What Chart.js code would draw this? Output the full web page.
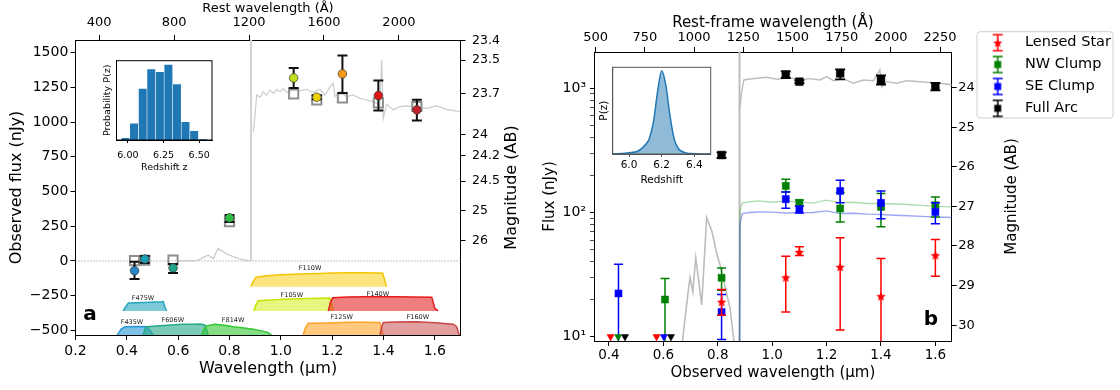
<!DOCTYPE html>
<html>
<head>
<meta charset="utf-8">
<title>SED panels</title>
<script src="https://cdn.jsdelivr.net/npm/chart.js@4/dist/chart.umd.min.js"></script>
<style>
  html, body { margin: 0; padding: 0; background: #ffffff; }
  #fig { position: relative; width: 1120px; height: 390px; overflow: hidden; background: #ffffff; }
  #fig canvas { position: absolute; }
</style>
</head>
<body>
<div id="fig">
  <canvas id="chartA" width="530" height="390" style="left:0px;top:0px;width:530px;height:390px;"></canvas>
  <canvas id="chartB" width="590" height="390" style="left:530px;top:0px;width:590px;height:390px;"></canvas>
  <canvas id="insetA" width="150" height="130" style="left:80px;top:50px;width:150px;height:130px;"></canvas>
  <canvas id="insetB" width="145" height="135" style="left:580px;top:55px;width:145px;height:135px;"></canvas>
</div>
<script>
// ======================= DATA : panel a =======================
const zA = 6.3;
const xRangeA = [0.2, 1.7];
const yRangeA = [-533, 1591];
const obsTicksA = [0.2, 0.4, 0.6, 0.8, 1.0, 1.2, 1.4, 1.6];
const restTicksA = [400, 800, 1200, 1600, 2000];
const fluxTicksA = [-500, -250, 0, 250, 500, 750, 1000, 1250, 1500];
const magTicksA = [23.4, 23.5, 23.7, 24, 24.2, 24.5, 25, 26];

const photLamA  = [0.43, 0.47, 0.58, 0.80, 1.05, 1.14, 1.24, 1.38, 1.53];
const photFluxA = [-70, 14, -50, 310, 1318, 1179, 1347, 1191, 1088];
const photLoA   = [-130, -14, -86, 281, 1246, 1164, 1210, 1083, 1011];
const photHiA   = [-5, 36, -22, 331, 1390, 1194, 1479, 1299, 1160];
const modelFluxA = [2, 5, 7, 283, 1203, 1160, 1174, 1138, 1112];

const specLoLamA  = [0.60, 0.666, 0.685, 0.704, 0.717, 0.737, 0.747, 0.756, 0.770, 0.789, 0.815, 0.841, 0.873, 0.881];
const specLoFluxA = [0, 0, 12, 31, 41, 17, 60, 89, 74, 50, 31, 14, 2, 0];
const specHiLamA  = [0.893,0.899,0.906,0.919,0.932,0.945,0.958,0.971,0.984,0.997,1.010,1.023,1.048,1.075,1.101,1.126,1.152,1.172,1.191,1.204,1.211,1.230,1.256,1.282,1.308,1.334,1.360,1.386,1.393,1.399,1.412,1.438,1.464,1.490,1.529,1.568,1.607,1.646,1.698];
const specHiFluxA = [931,1039,1195,1178,1219,1195,1231,1207,1236,1219,1243,1212,1231,1226,1236,1212,1236,1195,1251,1279,1183,1219,1183,1195,1171,1159,1147,1123,1447,1027,1130,1087,1111,1116,1107,1099,1116,1092,1075];
const lyaLamA  = [0.884, 0.884];
const lyaFluxA = [0, 1591];
const zeroLamA  = [0.2, 1.7];
const zeroFluxA = [0, 0];

const filterNamesA = ['F435W','F475W','F606W','F814W','F105W','F110W','F125W','F140W','F160W'];
const F435W_lam = [0.363, 0.378, 0.393, 0.44, 0.477, 0.49, 0.503];
const F435W_val = [-533, -490, -474, -471, -474, -500, -533];
const F475W_lam = [0.386, 0.395, 0.406, 0.47, 0.535, 0.542, 0.548, 0.555];
const F475W_val = [-360, -330, -303, -299, -294, -293, -330, -360];
const F606W_lam = [0.464, 0.470, 0.477, 0.529, 0.575, 0.620, 0.660, 0.685, 0.704, 0.717];
const F606W_val = [-533, -490, -473, -466, -461, -456, -455, -454, -461, -533];
const F814W_lam = [0.692, 0.700, 0.711, 0.743, 0.78, 0.815, 0.85, 0.893, 0.93, 0.951, 0.964];
const F814W_val = [-533, -490, -468, -456, -462, -473, -481, -492, -505, -516, -533];
const F105W_lam = [0.895, 0.902, 0.912, 0.96, 1.010, 1.10, 1.191, 1.198, 1.204];
const F105W_val = [-360, -320, -286, -281, -276, -271, -267, -310, -360];
const F110W_lam = [0.883, 0.892, 0.903, 0.945, 1.0, 1.075, 1.15, 1.204, 1.27, 1.334, 1.397, 1.405, 1.412];
const F110W_val = [-185, -150, -117, -106, -100, -94, -90, -86, -85, -84, -89, -140, -185];
const F125W_lam = [1.087, 1.096, 1.107, 1.18, 1.269, 1.33, 1.386, 1.393, 1.399];
const F125W_val = [-533, -480, -449, -446, -441, -442, -443, -490, -533];
const F140W_lam = [1.185, 1.193, 1.202, 1.26, 1.334, 1.45, 1.588, 1.594, 1.600, 1.613];
const F140W_val = [-360, -300, -264, -260, -257, -258, -262, -300, -342, -360];
const F160W_lam = [1.386, 1.392, 1.399, 1.45, 1.529, 1.60, 1.672, 1.685, 1.695];
const F160W_val = [-533, -480, -443, -440, -437, -445, -456, -473, -533];
const filterBaseA = [-533, -360, -533, -533, -360, -185, -533, -360, -533];
const filterLabelLamA = [0.420, 0.463, 0.579, 0.814, 1.043, 1.114, 1.237, 1.378, 1.534];
const filterLabelValA = [-444, -266, -425, -430, -245, -50, -408, -238, -408];
const panelLabelA = { text: 'a', x: 0.256, y: -389 };

const histCentersA = [5.983, 6.043, 6.104, 6.164, 6.224, 6.284, 6.344, 6.404, 6.465, 6.525];
const histCountsA  = [7, 50, 155, 213, 205, 227, 168, 55, 28, 3];
const histTicksA   = [6.0, 6.25, 6.5];

// ======================= DATA : panel b =======================
const xRangeB = [0.345, 1.66];
const yRangeB = [9.23, 1959];
const restRangeB = [491.4, 2309];
const magRangeB = [23.1, 30.4];
const obsTicksB = [0.4, 0.6, 0.8, 1.0, 1.2, 1.4, 1.6];
const restTicksB = [500, 750, 1000, 1250, 1500, 1750, 2000, 2250];
const magTicksB = [24, 25, 26, 27, 28, 29, 30];
const logTicksB = [10,20,30,40,50,60,70,80,90,100,200,300,400,500,600,700,800,900,1000];
const logLabelsB = { 10: '10\u00b9', 100: '10\u00b2', 1000: '10\u00b3' };

const seriesNamesB = ['Lensed Star', 'NW Clump', 'SE Clump', 'Full Arc'];
const lamB      = [0.435, 0.606, 0.814, 1.05, 1.10, 1.25, 1.40, 1.60];
const starFluxB = [null, null, 19.1, 30, 48.1, 36.5, 21.2, 45.3];
const starLoB   = [null, null, 14.9, 15.8, 45, 11.3, 5, 30.7];
const starHiB   = [null, null, 24, 44.5, 52.9, 62.5, 42.6, 60.6];
const nwFluxB   = [null, 19.9, 29.8, 163.8, 119.5, 107.7, 110.9, 114.5];
const nwLoB     = [null, 5, 23.7, 146, 113, 84, 76.6, 92];
const nwHiB     = [null, 29.4, 35.8, 185, 126, 145, 142, 133];
const seFluxB   = [22.3, null, 15.8, 128, 105.7, 149, 119.5, 101];
const seLoB     = [5, null, 9.5, 108, 99, 120, 89, 81];
const seHiB     = [38.3, null, 21.9, 146, 112, 182, 149, 120];
const arcFluxB  = [null, null, 290, 1290, 1130, 1320, 1166, 1030];
const arcLoB    = [null, null, 275, 1210, 1100, 1181, 1070, 960];
const arcHiB    = [null, null, 305, 1370, 1160, 1422, 1270, 1105];
const starLimLamB = [0.406, 0.575];
const nwLimLamB   = [0.434];
const seLimLamB   = [0.602];
const arcLimLamB  = [0.459, 0.628];
const limFluxB = 10;

const greyLoLamB  = [0.667,0.690,0.698,0.708,0.719,0.741,0.759,0.779,0.796,0.808,0.833,0.845,0.863];
const greyLoFluxB = [8,22,30,23,43,18,91,70,47,38,22,17,8];
const greyHiLamB  = [0.882,0.888,0.896,0.912,0.943,0.980,1.017,1.065,1.102,1.139,1.176,1.200,1.225,1.261,1.298,1.335,1.372,1.396,1.403,1.421,1.458,1.495,1.543,1.592,1.641,1.660];
const greyHiFluxB = [700,939,1166,1181,1204,1226,1181,1217,1166,1195,1166,1240,1151,1195,1097,1166,1151,1404,1030,1130,1097,1151,1130,1110,1083,1063];
const lyaLamB  = [0.880, 0.880];
const lyaFluxB = [8, 1959];
const modelLamB   = [0.880,0.882,0.890,0.92,0.95,1.0,1.05,1.1,1.15,1.2,1.25,1.3,1.35,1.4,1.45,1.5,1.55,1.6,1.66];
const nwModelB    = [8,104,119.5,122,124,121,123,121.7,119,125.6,120,121,118,118,117,116,114,112,111];
const seModelB    = [8,81.5,98,100,101,100.6,99,99.4,100,103,98,98.7,97,96.3,95,94,93,92,91];
const panelLabelB = { text: 'b', x: 1.584, y: 13.8 };

const pzZB = [5.90,5.95,6.00,6.05,6.10,6.125,6.15,6.175,6.20,6.225,6.25,6.275,6.30,6.35,6.40,6.45,6.50];
const pzPB = [0.0,0.006,0.016,0.03,0.11,0.19,0.39,0.75,1.0,0.83,0.47,0.19,0.07,0.012,0.004,0.0,0.0];
const pzTicksB = [6.0, 6.2, 6.4];

// ======================= STYLE =======================
const FONT = "'DejaVu Sans', 'Liberation Sans', sans-serif";
Chart.defaults.font.family = FONT;
Chart.defaults.color = '#000';
const photColorsA = ['#2385c4', '#1aa0b4', '#1ea387', '#2ec043', '#c3e01c', '#ecd000', '#f39a16', '#e01818', '#c4232b'];
const filterEdgeA = ['#2a96d6','#27a6c0','#25a98a','#33c733','#c6e400','#f2c500','#ffa32a','#e51c1c','#c94646'];
const filterFillA = ['rgba(42,150,214,0.6)','rgba(39,166,192,0.6)','rgba(37,169,138,0.6)','rgba(51,199,51,0.6)',
                     'rgba(214,240,40,0.6)','rgba(250,212,40,0.6)','rgba(255,165,40,0.6)','rgba(232,40,40,0.6)','rgba(200,80,80,0.55)'];
const seriesColorB = ['#ff0000', '#008000', '#0000ff', '#000000'];

// ======================= HELPERS =======================
function pts(xs, ys) { const o = []; xs.forEach((x, i) => { if (ys[i] !== null && ys[i] !== undefined) o.push({x: x, y: ys[i]}); }); return o; }
function pick(arr, ref) { return arr.filter((v, i) => ref[i] !== null); }
function fluxFromMag(m) { return Math.pow(10, (31.4 - m) / 2.5); }
function minus(v) { return v < 0 ? '\u2212' + Math.abs(v) : String(v); }
function tickGrid(len) { return { drawOnChartArea: false, drawTicks: true, tickLength: len, tickColor: '#000', tickWidth: 1 }; }
const frame = { display: true, color: '#000', width: 1 };

function starCanvas(color, r, w) {
  const c = document.createElement('canvas'); c.width = w; c.height = w;
  const g = c.getContext('2d'); g.fillStyle = color; g.beginPath();
  for (let k = 0; k < 10; k++) {
    const rr = k % 2 === 0 ? r : r * 0.45;
    const a = -Math.PI / 2 + k * Math.PI / 5;
    const px = w / 2 + rr * Math.cos(a), py = w / 2 + rr * Math.sin(a) + 0.5;
    if (k === 0) g.moveTo(px, py); else g.lineTo(px, py);
  }
  g.closePath(); g.fill(); return c;
}
function glyph(color, shape) {
  const c = document.createElement('canvas'); c.width = 14; c.height = 20;
  const g = c.getContext('2d'); g.strokeStyle = color; g.lineWidth = 1.5;
  g.beginPath(); g.moveTo(7, 2); g.lineTo(7, 18); g.moveTo(2, 2); g.lineTo(12, 2); g.moveTo(2, 18); g.lineTo(12, 18); g.stroke();
  if (shape === 'star') { g.drawImage(starCanvas(color, 4.8, 12), 1, 4); }
  else { g.fillStyle = color; g.fillRect(3.5, 6.5, 7, 7); }
  return c;
}

// ======================= PLUGINS =======================
const errorBars = {
  id: 'errorBars',
  beforeDatasetDraw(chart, args) {
    const ds = chart.data.datasets[args.index];
    if (!ds.errLo) return;
    const xs = chart.scales.x, ys = chart.scales.y, a = chart.chartArea, ctx = chart.ctx;
    ctx.save();
    ctx.beginPath(); ctx.rect(a.left, a.top, a.right - a.left, a.bottom - a.top); ctx.clip();
    ctx.strokeStyle = ds.errColor; ctx.lineWidth = ds.errWidth; ctx.lineCap = 'butt';
    ds.data.forEach((p, i) => {
      const x = xs.getPixelForValue(p.x);
      const y1 = ys.getPixelForValue(ds.errLo[i]);
      const y2 = ys.getPixelForValue(ds.errHi[i]);
      ctx.beginPath();
      ctx.moveTo(x, y1); ctx.lineTo(x, y2);
      ctx.moveTo(x - ds.capHalf, y1); ctx.lineTo(x + ds.capHalf, y1);
      ctx.moveTo(x - ds.capHalf, y2); ctx.lineTo(x + ds.capHalf, y2);
      ctx.stroke();
    });
    ctx.restore();
  }
};
const textMarks = {
  id: 'textMarks',
  afterDatasetsDraw(chart, args, opts) {
    const ctx = chart.ctx, xs = chart.scales.x, ys = chart.scales.y;
    (opts.items || []).forEach(it => {
      ctx.save();
      ctx.font = it.font; ctx.fillStyle = it.color || '#000';
      ctx.textAlign = 'center'; ctx.textBaseline = 'middle';
      ctx.fillText(it.text, xs.getPixelForValue(it.x), ys.getPixelForValue(it.y));
      ctx.restore();
    });
  }
};
const sideTitle = {
  id: 'sideTitle',
  afterDraw(chart, args, opts) {
    if (!opts.scaleId) return;
    const s = chart.scales[opts.scaleId], a = chart.chartArea, ctx = chart.ctx;
    ctx.save();
    ctx.translate(s.right - opts.offset, (a.top + a.bottom) / 2 + (opts.dy || 0));
    ctx.rotate(-Math.PI / 2);
    ctx.font = opts.size + 'px ' + FONT; ctx.fillStyle = '#000';
    ctx.textAlign = 'center'; ctx.textBaseline = 'middle';
    ctx.fillText(s.options.title.text, 0, 0);
    ctx.restore();
  }
};
const insetFrame = {
  id: 'insetFrame',
  beforeDraw(chart) { const a = chart.chartArea, c = chart.ctx; c.save(); c.fillStyle = '#fff'; c.fillRect(a.left, a.top, a.right - a.left, a.bottom - a.top); c.restore(); },
  afterDraw(chart, args, opts) { const a = chart.chartArea, c = chart.ctx; c.save(); c.strokeStyle = opts.color || '#000'; c.lineWidth = 1; c.strokeRect(a.left, a.top, a.right - a.left, a.bottom - a.top); c.restore(); }
};
const legendPlace = {
  id: 'legendPlace',
  afterLayout(chart, args, opts) {
    const lg = chart.legend; if (!lg || !opts.x) return;
    lg.left = opts.x; lg.top = opts.y; lg.height = opts.h;
    lg.right = opts.x + lg.width; lg.bottom = opts.y + opts.h;
  },
  beforeDraw(chart, args, opts) {
    if (!opts.frame) return;
    const f = opts.frame, c = chart.ctx;
    c.save(); c.fillStyle = 'rgba(255,255,255,0.85)'; c.strokeStyle = '#cfcfcf'; c.lineWidth = 1;
    c.beginPath(); c.roundRect(f.x, f.y, f.w, f.h, 3); c.fill(); c.stroke(); c.restore();
  }
};

// ======================= CHART a =======================
const filterLamA = [F435W_lam, F475W_lam, F606W_lam, F814W_lam, F105W_lam, F110W_lam, F125W_lam, F140W_lam, F160W_lam];
const filterValA = [F435W_val, F475W_val, F606W_val, F814W_val, F105W_val, F110W_val, F125W_val, F140W_val, F160W_val];
const filterOrder = [88, 89, 87, 86, 85, 84, 83, 82, 81];

const datasetsA = [];
datasetsA.push({ data: pts(zeroLamA, zeroFluxA), borderColor: '#9a9a9a', borderWidth: 1, borderDash: [1.2, 1.8], pointRadius: 0, fill: false, order: 100 });
filterNamesA.forEach((n, i) => {
  datasetsA.push({ data: pts(filterLamA[i], filterValA[i]), borderColor: filterEdgeA[i], backgroundColor: filterFillA[i],
    borderWidth: 1.5, pointRadius: 0, tension: 0, fill: { value: filterBaseA[i] }, order: filterOrder[i] });
});
datasetsA.push({ data: pts(specLoLamA, specLoFluxA), borderColor: '#c9c9c9', borderWidth: 1.2, pointRadius: 0, fill: false, order: 70 });
datasetsA.push({ data: pts(specHiLamA, specHiFluxA), borderColor: '#cdcdcd', borderWidth: 1.2, pointRadius: 0, fill: false, order: 70 });
datasetsA.push({ data: pts(lyaLamA, lyaFluxA), borderColor: '#d2d2d2', borderWidth: 2, pointRadius: 0, fill: false, order: 71 });
datasetsA.push({ data: pts(photLamA, modelFluxA), showLine: false, pointStyle: 'rect', pointRadius: 6.5,
  pointBackgroundColor: 'rgba(0,0,0,0)', pointBorderColor: '#8e8e8e', pointBorderWidth: 2, order: 20 });
datasetsA.push({ data: pts(photLamA, photFluxA), showLine: false, pointStyle: 'circle', pointRadius: 4.3,
  pointBackgroundColor: photColorsA, pointBorderColor: '#333', pointBorderWidth: 0.7,
  errLo: photLoA, errHi: photHiA, errColor: '#111', errWidth: 2, capHalf: 5, order: 10 });

const textItemsA = filterNamesA.map((n, i) => ({ text: n, x: filterLabelLamA[i], y: filterLabelValA[i], font: '6.5px ' + FONT, color: '#222' }));
textItemsA.push({ text: panelLabelA.text, x: panelLabelA.x, y: panelLabelA.y, font: 'bold 20px ' + FONT, color: '#000' });

new Chart(document.getElementById('chartA'), {
  type: 'line',
  data: { datasets: datasetsA },
  plugins: [errorBars, textMarks, sideTitle],
  options: {
    responsive: false, animation: false, devicePixelRatio: 1,
    layout: { padding: 0 },
    events: [],
    plugins: {
      legend: { display: false }, tooltip: { enabled: false },
      textMarks: { items: textItemsA },
      sideTitle: { scaleId: 'y2', offset: 18.3, size: 16 }
    },
    scales: {
      x: { type: 'linear', axis: 'x', position: 'bottom', min: xRangeA[0], max: xRangeA[1],
        afterBuildTicks: s => { s.ticks = obsTicksA.map(v => ({ value: v })); },
        afterFit: s => { s.height = 55; },
        ticks: { font: { size: 14 }, padding: 3.3, autoSkip: false, maxRotation: 0, callback: v => v.toFixed(1) },
        grid: tickGrid(5), border: frame,
        title: { display: true, text: 'Wavelength (\u03bcm)', font: { size: 16 }, padding: { top: 0, bottom: 11.4 } } },
      x2: { type: 'linear', axis: 'x', position: 'top', min: xRangeA[0], max: xRangeA[1],
        afterBuildTicks: s => { s.ticks = restTicksA.map(r => ({ value: r * (1 + zA) / 1e4 })); },
        afterFit: s => { s.height = 40; },
        ticks: { font: { size: 13 }, padding: 4.5, autoSkip: false, maxRotation: 0, callback: (v, i) => String(restTicksA[i]) },
        grid: tickGrid(5), border: frame,
        title: { display: true, text: 'Rest wavelength (\u00c5)', font: { size: 13 }, padding: { top: 0.5, bottom: 0 } } },
      y: { type: 'linear', axis: 'y', position: 'left', min: yRangeA[0], max: yRangeA[1],
        afterBuildTicks: s => { s.ticks = fluxTicksA.map(v => ({ value: v })); },
        afterFit: s => { s.width = 75.5; },
        ticks: { font: { size: 14 }, padding: 2.2, autoSkip: false, callback: v => minus(v) },
        grid: tickGrid(5), border: frame,
        title: { display: true, text: 'Observed flux (nJy)', font: { size: 16 }, padding: { top: 7.4, bottom: 0 } } },
      y2: { type: 'linear', axis: 'y', position: 'right', min: yRangeA[0], max: yRangeA[1],
        afterBuildTicks: s => { s.ticks = magTicksA.map(m => ({ value: fluxFromMag(m) })); },
        afterFit: s => { s.width = 69.5; },
        ticks: { font: { size: 12.5 }, padding: 6.5, autoSkip: false, callback: (v, i) => String(magTicksA[i]) },
        grid: tickGrid(5), border: frame,
        title: { display: false, text: 'Magnitude (AB)' } }
    }
  }
});

// ======================= INSET a =======================
new Chart(document.getElementById('insetA'), {
  type: 'bar',
  data: { datasets: [{ data: pts(histCentersA, histCountsA), backgroundColor: '#1f77b4', borderColor: 'rgba(255,255,255,0.35)',
    borderWidth: 0.6, barPercentage: 1, categoryPercentage: 1, grouped: false }] },
  plugins: [insetFrame],
  options: {
    responsive: false, animation: false, devicePixelRatio: 1, events: [],
    layout: { padding: { top: 10.7, right: 18, left: 0, bottom: 0 } },
    plugins: { legend: { display: false }, tooltip: { enabled: false }, insetFrame: { color: '#000' } },
    scales: {
      x: { type: 'linear', min: 5.92, max: 6.59, offset: false,
        afterBuildTicks: s => { s.ticks = histTicksA.map(v => ({ value: v })); },
        afterFit: s => { s.height = 40; },
        ticks: { font: { size: 9.5 }, padding: 6.5, autoSkip: false, maxRotation: 0, callback: v => v.toFixed(2) },
        grid: { drawOnChartArea: false, drawTicks: true, tickLength: 3, tickColor: '#000', offset: false }, border: frame,
        title: { display: true, text: 'Redshift z', font: { size: 9.5 }, padding: { top: 0, bottom: 7 } } },
      y: { type: 'linear', min: 0, max: 238,
        afterFit: s => { s.width = 36.5; },
        ticks: { display: false }, grid: { display: false }, border: frame,
        title: { display: true, text: 'Probability P(z)', font: { size: 9.5 }, padding: { top: 21.6, bottom: 0 } } }
    }
  }
});

// ======================= CHART b =======================
const starImg = starCanvas('#ff0000', 5, 12);
const legendGlyphs = { 'Lensed Star': glyph('#ff0000', 'star'), 'NW Clump': glyph('#008000', 'sq'), 'SE Clump': glyph('#0000ff', 'sq'), 'Full Arc': glyph('#000000', 'sq') };

const datasetsB = [];
datasetsB.push({ label: seriesNamesB[0], data: pts(lamB, starFluxB), showLine: false, pointStyle: starImg, pointRadius: 4,
  errLo: pick(starLoB, starFluxB), errHi: pick(starHiB, starFluxB), errColor: seriesColorB[0], errWidth: 1.5, capHalf: 4.5, order: 10 });
datasetsB.push({ label: seriesNamesB[1], data: pts(lamB, nwFluxB), showLine: false, pointStyle: 'rect', pointRadius: 5,
  pointBackgroundColor: seriesColorB[1], pointBorderColor: seriesColorB[1], pointBorderWidth: 0.5,
  errLo: pick(nwLoB, nwFluxB), errHi: pick(nwHiB, nwFluxB), errColor: seriesColorB[1], errWidth: 1.5, capHalf: 4.5, order: 30 });
datasetsB.push({ label: seriesNamesB[2], data: pts(lamB, seFluxB), showLine: false, pointStyle: 'rect', pointRadius: 5,
  pointBackgroundColor: seriesColorB[2], pointBorderColor: seriesColorB[2], pointBorderWidth: 0.5,
  errLo: pick(seLoB, seFluxB), errHi: pick(seHiB, seFluxB), errColor: seriesColorB[2], errWidth: 1.5, capHalf: 4.5, order: 20 });
datasetsB.push({ label: seriesNamesB[3], data: pts(lamB, arcFluxB), showLine: false, pointStyle: 'rect', pointRadius: 5.5,
  pointBackgroundColor: seriesColorB[3], pointBorderColor: seriesColorB[3], pointBorderWidth: 0.5,
  errLo: pick(arcLoB, arcFluxB), errHi: pick(arcHiB, arcFluxB), errColor: seriesColorB[3], errWidth: 1.8, capHalf: 5, order: 40 });
[starLimLamB, nwLimLamB, seLimLamB, arcLimLamB].forEach((arr, i) => {
  datasetsB.push({ data: arr.map(x => ({ x: x, y: limFluxB })), showLine: false, pointStyle: 'triangle', pointRotation: 180,
    pointRadius: 4.2, pointBackgroundColor: seriesColorB[i], pointBorderColor: seriesColorB[i], pointBorderWidth: 0.5, order: 5 });
});
datasetsB.push({ data: pts(greyLoLamB, greyLoFluxB), borderColor: '#bdbdbd', borderWidth: 1.6, pointRadius: 0, fill: false, order: 100 });
datasetsB.push({ data: pts(greyHiLamB, greyHiFluxB), borderColor: '#bdbdbd', borderWidth: 1.4, pointRadius: 0, fill: false, order: 100 });
datasetsB.push({ data: pts(lyaLamB, lyaFluxB), borderColor: '#bdbdbd', borderWidth: 2, pointRadius: 0, fill: false, order: 101 });
datasetsB.push({ data: pts(modelLamB, nwModelB), borderColor: 'rgba(0,150,0,0.32)', borderWidth: 1.4, pointRadius: 0, fill: false, order: 99 });
datasetsB.push({ data: pts(modelLamB, seModelB), borderColor: 'rgba(40,60,235,0.45)', borderWidth: 1.4, pointRadius: 0, fill: false, order: 98 });

new Chart(document.getElementById('chartB'), {
  type: 'line',
  data: { datasets: datasetsB },
  plugins: [errorBars, textMarks, sideTitle, legendPlace],
  options: {
    responsive: false, animation: false, devicePixelRatio: 1, events: [],
    layout: { padding: 0 },
    plugins: {
      tooltip: { enabled: false },
      legend: { display: true, position: 'chartArea', align: 'start',
        labels: { usePointStyle: true, pointStyleWidth: 40, boxHeight: 14.5, padding: 7.4, font: { size: 14.5 }, color: '#000',
          generateLabels: chart => Chart.defaults.plugins.legend.labels.generateLabels(chart)
            .filter(it => seriesNamesB.includes(it.text))
            .map(it => Object.assign(it, { pointStyle: legendGlyphs[it.text], rotation: 0 })),
          sort: (a, b) => seriesNamesB.indexOf(a.text) - seriesNamesB.indexOf(b.text) } },
      legendPlace: { x: 440.3, y: 28, h: 96, frame: { x: 447, y: 31.7, w: 136, h: 86.3 } },
      textMarks: { items: [{ text: panelLabelB.text, x: panelLabelB.x, y: panelLabelB.y, font: 'bold 20px ' + FONT, color: '#000' }] },
      sideTitle: { scaleId: 'y2', offset: 108, size: 15 }
    },
    scales: {
      x: { type: 'linear', axis: 'x', position: 'bottom', min: xRangeB[0], max: xRangeB[1],
        afterBuildTicks: s => { s.ticks = obsTicksB.map(v => ({ value: v })); },
        afterFit: s => { s.height = 49; },
        ticks: { font: { size: 13.5 }, padding: 1, autoSkip: false, maxRotation: 0, callback: v => v.toFixed(1) },
        grid: tickGrid(5), border: frame,
        title: { display: true, text: 'Observed wavelength (\u03bcm)', font: { size: 15 }, padding: { top: 0, bottom: 8.3 } } },
      x2: { type: 'linear', axis: 'x', position: 'top', min: restRangeB[0], max: restRangeB[1],
        afterBuildTicks: s => { s.ticks = restTicksB.map(v => ({ value: v })); },
        afterFit: s => { s.height = 52; },
        ticks: { font: { size: 13 }, padding: 1.8, autoSkip: false, maxRotation: 0, callback: v => String(v) },
        grid: tickGrid(5), border: frame,
        title: { display: true, text: 'Rest-frame wavelength (\u00c5)', font: { size: 15 }, padding: { top: 14.3, bottom: 0 } } },
      y: { type: 'logarithmic', axis: 'y', position: 'left', min: yRangeB[0], max: yRangeB[1],
        afterBuildTicks: s => { s.ticks = logTicksB.map(v => ({ value: v, major: !!logLabelsB[v] })); },
        afterFit: s => { s.width = 64; },
        ticks: { font: { size: 14 }, padding: 4, autoSkip: false, callback: v => logLabelsB[v] || '' },
        grid: { drawOnChartArea: false, drawTicks: true, tickLength: 4, tickColor: '#000',
          tickWidth: c => (c.tick && logLabelsB[c.tick.value]) ? 1 : 0.7 },
        border: frame,
        title: { display: true, text: 'Flux (nJy)', font: { size: 15 }, padding: { top: 11, bottom: 0 } } },
      y2: { type: 'linear', axis: 'y', position: 'right', min: magRangeB[0], max: magRangeB[1], reverse: true,
        afterBuildTicks: s => { s.ticks = magTicksB.map(v => ({ value: v })); },
        afterFit: s => { s.width = 168.3; },
        ticks: { font: { size: 13 }, padding: 1.6, autoSkip: false, callback: v => String(v) },
        grid: tickGrid(5), border: frame,
        title: { display: false, text: 'Magnitude (AB)' } }
    }
  }
});

// ======================= INSET b =======================
new Chart(document.getElementById('insetB'), {
  type: 'line',
  data: { datasets: [{ data: pts(pzZB, pzPB), borderColor: '#1f77b4', backgroundColor: 'rgba(31,119,180,0.5)', borderWidth: 1.5,
    pointRadius: 0, fill: 'origin', tension: 0.4, cubicInterpolationMode: 'monotone' }] },
  plugins: [insetFrame],
  options: {
    responsive: false, animation: false, devicePixelRatio: 1, events: [],
    layout: { padding: { top: 12.3, right: 14.3, left: 0, bottom: 0 } },
    plugins: { legend: { display: false }, tooltip: { enabled: false }, insetFrame: { color: '#555' } },
    scales: {
      x: { type: 'linear', min: 5.9, max: 6.5,
        afterBuildTicks: s => { s.ticks = pzTicksB.map(v => ({ value: v })); },
        afterFit: s => { s.height = 36; },
        ticks: { font: { size: 10.5 }, padding: 2.4, autoSkip: false, maxRotation: 0, callback: v => v.toFixed(1) },
        grid: { drawOnChartArea: false, drawTicks: true, tickLength: 3, tickColor: '#555' }, border: { display: true, color: '#555', width: 1 },
        title: { display: true, text: 'Redshift', font: { size: 10.5 }, padding: { top: 0, bottom: 3.7 } } },
      y: { type: 'linear', min: 0, max: 1.04,
        afterFit: s => { s.width = 32.7; },
        ticks: { display: false }, grid: { display: false }, border: { display: true, color: '#555', width: 1 },
        title: { display: true, text: 'P(z)', font: { size: 10.5 }, padding: { top: 17.7, bottom: 0 } } }
    }
  }
});
</script>
</body>
</html>
